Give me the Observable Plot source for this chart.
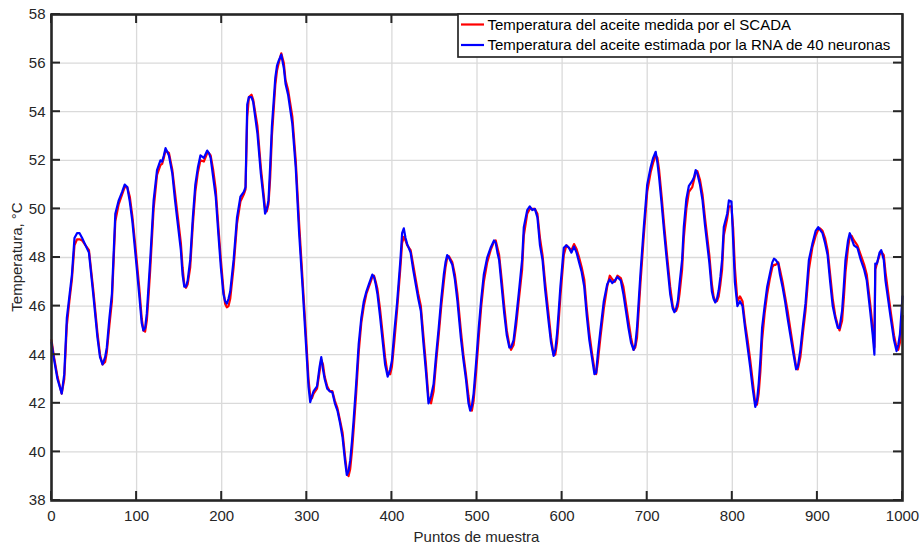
<!DOCTYPE html>
<html><head><meta charset="utf-8">
<script src="https://cdn.jsdelivr.net/npm/d3@7"></script>
<script src="https://cdn.jsdelivr.net/npm/@observablehq/plot@0.6"></script>
<style>body{margin:0;background:#fff}#chart{width:920px;height:546px}</style>
</head><body><div id="chart"></div>
<script>
const sampleX = [0,3,7,12,15,18,21,24,27,30,33,36,40,44,49,54,57,60,63,65,68,71,75,79,83,86,89,92,95,99,103,106,108,110,112,114,116,120,124,128,130,132,134,138,142,145,148,152,154,156,158,160,163,166,169,172,175,179,183,185,187,190,193,196,199,202,204,206,208,210,214,218,222,226,228,230,232,235,237,242,246,249,251,253,255,257,259,263,265,267,270,273,275,278,283,287,291,295,299,302,304,306,308,312,315,317,319,321,324,327,330,333,336,339,342,345,347,349,351,353,355,358,361,364,367,370,373,375,377,379,381,383,386,389,392,395,398,400,403,406,410,412,414,416,418,422,425,428,431,434,437,440,443,446,449,452,455,458,461,463,465,467,471,474,477,481,484,487,490,492,494,496,499,502,505,508,512,516,520,522,524,526,529,532,535,538,540,543,546,549,553,555,559,562,565,568,571,574,577,580,584,587,590,592,594,596,598,602,605,608,611,614,617,620,623,626,629,632,635,638,640,642,645,649,653,656,659,662,665,669,672,675,678,681,684,686,688,690,692,696,700,704,707,710,712,714,717,720,723,727,730,732,734,736,738,741,743,746,749,753,755,757,759,762,765,768,771,773,776,778,780,782,784,786,788,790,794,796,799,801,803,806,809,812,815,818,821,824,827,829,831,833,835,838,841,844,847,849,851,854,856,859,862,865,868,872,875,877,880,883,886,890,894,898,901,903,906,909,912,915,918,921,924,926,929,931,933,936,938,940,943,947,951,955,958,962,965,967,968,970,973,975,978,980,983,986,990,993,995,997,1000];
const estimadaY = [44.5,43.8,43.0,42.4,43.2,45.5,46.4,47.3,48.8,49.0,49.0,48.8,48.5,48.2,46.5,44.7,43.9,43.6,43.9,44.3,45.5,46.5,49.8,50.35,50.7,51.0,50.9,50.3,49.5,48.0,46.5,45.3,45.0,45.1,45.7,46.8,47.9,50.35,51.6,52.0,51.95,52.2,52.5,52.2,51.45,50.4,49.5,48.3,47.3,46.8,46.8,47.05,47.9,49.6,51.0,51.7,52.2,52.1,52.4,52.3,52.1,51.3,50.5,49.0,47.6,46.5,46.2,46.1,46.3,46.6,47.9,49.65,50.5,50.7,50.9,54.3,54.6,54.6,54.4,53.1,51.45,50.5,49.8,50.0,50.35,51.8,53.4,55.4,55.9,56.1,56.35,55.8,55.15,54.7,53.5,51.7,49.0,46.8,44.45,42.7,42.05,42.3,42.5,42.7,43.5,43.9,43.4,43.0,42.6,42.5,42.45,42.0,41.7,41.2,40.6,39.6,39.05,39.2,39.65,40.4,41.3,42.8,44.45,45.5,46.2,46.6,46.9,47.1,47.3,47.2,46.9,46.5,45.6,44.6,43.6,43.1,43.4,43.75,45.0,46.1,47.9,49.0,49.2,48.8,48.55,48.2,47.5,46.9,46.3,45.8,44.5,43.3,42.0,42.3,42.8,44.0,45.1,46.3,47.3,47.8,48.1,48.0,47.7,47.1,46.2,44.7,43.8,43.0,42.0,41.7,41.9,42.4,43.7,45.1,46.3,47.3,48.0,48.4,48.7,48.6,48.2,47.9,46.8,45.7,44.8,44.3,44.3,44.6,45.5,46.5,47.9,49.25,49.95,50.1,49.95,50.0,49.65,48.5,47.9,46.7,45.4,44.5,43.95,44.2,44.85,45.8,46.8,48.4,48.5,48.4,48.2,48.45,48.2,47.8,47.4,46.8,45.6,44.6,43.9,43.2,43.25,44.05,45.0,46.2,46.9,47.1,46.95,47.05,47.2,47.05,46.5,45.8,45.1,44.5,44.2,44.4,45.1,46.2,47.3,49.25,51.0,51.7,52.1,52.35,51.9,51.3,50.2,49.0,47.9,46.5,45.9,45.75,45.9,46.2,46.9,47.9,49.25,50.4,50.95,51.15,51.3,51.6,51.45,51.0,50.35,49.3,48.4,47.8,46.6,46.3,46.15,46.3,46.65,47.2,47.9,49.25,49.8,50.35,50.3,48.7,47.0,46.0,46.2,46.0,45.1,44.3,43.5,42.6,41.85,42.1,42.8,43.8,45.1,46.0,46.8,47.3,47.8,47.95,47.9,47.75,47.3,46.8,46.2,45.5,44.85,44.0,43.4,43.5,44.2,45.2,46.1,47.9,48.55,49.1,49.25,49.15,49.0,48.6,48.1,47.0,46.0,45.5,45.1,45.1,45.8,46.8,47.9,48.7,49.0,48.8,48.5,48.4,47.9,47.5,47.05,45.8,44.8,44.0,47.75,47.75,48.2,48.3,47.9,47.05,46.3,45.55,44.6,44.15,44.4,44.85,46.4];
const medidaY = [44.6,43.9,43.1,42.4,43.0,45.2,46.2,47.1,48.5,48.75,48.75,48.7,48.5,48.3,46.7,44.9,44.0,43.6,43.7,44.1,45.2,46.2,49.5,50.2,50.6,50.9,50.9,50.5,49.7,48.3,46.8,45.5,45.0,44.95,45.4,46.4,47.5,50.0,51.4,51.8,51.85,52.1,52.4,52.3,51.6,50.7,49.8,48.6,47.6,46.9,46.75,46.9,47.6,49.3,50.7,51.5,52.0,51.95,52.3,52.3,52.2,51.6,50.8,49.3,47.9,46.7,46.1,45.95,46.0,46.3,47.6,49.4,50.3,50.6,50.8,53.8,54.6,54.7,54.5,53.4,51.7,50.7,50.0,49.9,50.2,51.3,53.0,55.1,55.7,56.0,56.4,56.0,55.3,54.9,53.8,52.0,49.4,47.1,44.8,43.0,42.3,42.2,42.4,42.6,43.3,43.8,43.6,43.1,42.7,42.5,42.5,42.1,41.8,41.3,40.8,39.8,39.2,39.0,39.3,40.0,40.9,42.4,44.1,45.3,46.0,46.5,46.8,47.0,47.2,47.25,47.0,46.7,45.9,44.9,43.9,43.2,43.2,43.5,44.6,45.8,47.6,48.6,48.85,48.7,48.5,48.3,47.7,47.1,46.5,46.0,44.8,43.6,42.2,42.0,42.5,43.7,44.8,46.0,47.0,47.6,48.0,48.05,47.8,47.3,46.5,45.0,44.0,43.2,42.3,41.8,41.7,42.1,43.3,44.7,46.0,47.0,47.8,48.3,48.65,48.7,48.4,48.1,47.1,46.0,45.0,44.4,44.2,44.4,45.2,46.2,47.5,48.9,49.8,50.0,50.0,50.0,49.8,48.8,48.1,47.0,45.7,44.7,44.0,44.0,44.5,45.4,46.4,48.1,48.5,48.4,48.3,48.55,48.35,48.0,47.6,47.1,45.9,44.9,44.1,43.4,43.2,43.7,44.7,45.9,46.8,47.25,47.1,47.0,47.25,47.15,46.8,46.1,45.4,44.7,44.2,44.3,44.7,45.8,46.9,48.9,50.7,51.5,51.9,52.2,52.1,51.6,50.5,49.3,48.2,46.8,46.0,45.8,45.8,46.0,46.5,47.5,48.8,50.0,50.7,50.9,51.2,51.5,51.55,51.2,50.6,49.6,48.7,48.1,46.9,46.4,46.2,46.2,46.4,46.9,47.5,48.9,49.6,50.1,50.1,49.2,47.6,46.2,46.4,46.2,45.3,44.6,43.8,42.9,42.0,41.95,42.4,43.3,44.6,45.7,46.5,47.1,47.6,47.7,47.7,47.8,47.5,47.0,46.4,45.8,45.1,44.2,43.5,43.4,43.9,44.9,45.8,47.5,48.4,48.9,49.15,49.2,49.1,48.8,48.3,47.3,46.3,45.6,45.2,45.0,45.4,46.3,47.4,48.4,48.85,48.9,48.7,48.5,48.1,47.7,47.3,46.1,45.1,44.3,47.5,47.75,48.1,48.25,48.1,47.4,46.6,45.8,44.8,44.3,44.2,44.5,45.6];
const xTicks = [0,100,200,300,400,500,600,700,800,900,1000];
const yTicks = [38,40,42,44,46,48,50,52,54,56,58];
const seriesNames = ["Temperatura del aceite medida por el SCADA", "Temperatura del aceite estimada por la RNA de 40 neuronas"];
const seriesColors = ["#ff0000", "#0000ff"];
const xLabel = "Puntos de muestra";
const yLabel = "Temperatura, °C";

const medida = sampleX.map((x, i) => ({x, y: medidaY[i]}));
const estimada = sampleX.map((x, i) => ({x, y: estimadaY[i]}));
const ink = "#262626";
const font = "'Liberation Sans', Arial, sans-serif";

const chart = Plot.plot({
  width: 920, height: 546,
  marginLeft: 51, marginRight: 18, marginTop: 14, marginBottom: 46,
  style: {fontFamily: font, fontSize: "15px", color: ink, background: "#fff"},
  x: {domain: [0, 1000]},
  y: {domain: [38, 58]},
  marks: [
    Plot.gridX(xTicks, {stroke: "#dadada", strokeOpacity: 1, strokeWidth: 1.3}),
    Plot.gridY(yTicks, {stroke: "#dadada", strokeOpacity: 1, strokeWidth: 1.3}),
    Plot.axisX(xTicks, {tickSize: 0, tickPadding: 10, tickFormat: d => String(d), label: null, fill: ink}),
    Plot.axisY(yTicks, {tickSize: 0, tickPadding: 6, tickFormat: d => String(d), label: null, fill: ink}),
    Plot.line(medida, {x: "x", y: "y", stroke: seriesColors[0], strokeWidth: 2.2}),
    Plot.line(estimada, {x: "x", y: "y", stroke: seriesColors[1], strokeWidth: 2.2}),
    Plot.frame({stroke: ink, strokeWidth: 2.6})
  ]
});
document.getElementById("chart").appendChild(chart);

const sx = chart.scale("x"), sy = chart.scale("y");
const svg = d3.select(chart);
const x0 = sx.apply(0), x1 = sx.apply(1000), y0 = sy.apply(38), y1 = sy.apply(58);
const tl = 9;
const g = svg.append("g").attr("stroke", ink).attr("stroke-width", 2);
xTicks.forEach(v => {
  const px = sx.apply(v);
  g.append("line").attr("x1", px).attr("x2", px).attr("y1", y0).attr("y2", y0 - tl);
  g.append("line").attr("x1", px).attr("x2", px).attr("y1", y1).attr("y2", y1 + tl);
});
yTicks.forEach(v => {
  const py = sy.apply(v);
  g.append("line").attr("y1", py).attr("y2", py).attr("x1", x0).attr("x2", x0 + tl);
  g.append("line").attr("y1", py).attr("y2", py).attr("x1", x1).attr("x2", x1 - tl);
});
// axis labels
svg.append("text").attr("x", (x0 + x1) / 2).attr("y", 542).attr("text-anchor", "middle")
  .attr("font-family", font).attr("font-size", 15).attr("fill", ink).text(xLabel);
svg.append("text").attr("transform", `translate(22,${(y0 + y1) / 2}) rotate(-90)`).attr("text-anchor", "middle")
  .attr("font-family", font).attr("font-size", 15).attr("fill", ink).text(yLabel);
// legend
const lw = 444, lh = 43;
const lg = svg.append("g").attr("transform", `translate(${x1 - lw},${y1})`);
lg.append("rect").attr("width", lw).attr("height", lh).attr("fill", "#fff").attr("stroke", ink).attr("stroke-width", 1.7);
seriesNames.forEach((name, i) => {
  const cy = 10.5 + i * 20.5;
  lg.append("line").attr("x1", 3).attr("x2", 26).attr("y1", cy).attr("y2", cy).attr("stroke", seriesColors[i]).attr("stroke-width", 2.2);
  lg.append("text").attr("x", 29.5).attr("y", cy).attr("dy", "0.35em").attr("text-anchor", "start")
    .attr("font-family", font).attr("font-size", 15).attr("fill", "#000").text(name);
});
</script></body></html>
